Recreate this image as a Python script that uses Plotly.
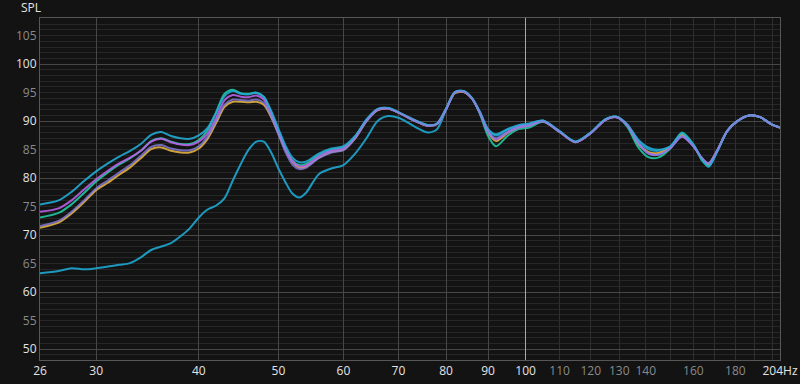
import numpy as np
import plotly.graph_objects as go

# ---------------- data ----------------
freqs = [25.63, 27, 28, 29, 30, 31, 32, 33, 34, 35, 36, 37, 38, 39, 40, 41, 42, 43, 44, 45,
         46, 47, 48, 49, 50, 51, 52, 53, 54, 56, 58, 60, 62, 64, 66, 68, 70, 72, 74, 76,
         78, 80, 82, 84, 86, 88, 90, 92, 95, 98, 101, 105, 110, 115, 120, 125, 129, 133, 137, 141,
         145, 150, 155, 160, 164, 167, 171, 176, 181, 187, 193, 199, 204]

spl_low = [63.3, 63.7, 64.2, 64.0, 64.2, 64.5, 64.8, 65.1, 66.1, 67.4, 68.0, 68.6, 69.8, 71.2, 73.1, 74.5, 75.2, 76.5, 79.6, 82.5,
           85.0, 86.4, 86.4, 84.5, 81.7, 79.3, 77.3, 76.6, 77.4, 80.7, 81.7, 82.3, 84.3, 87.0, 90.0, 90.9, 90.6, 89.7, 88.7, 88.0,
           88.6, 92.0, 95.0, 95.2, 94.0, 91.5, 88.5, 87.5, 88.5, 89.2, 89.5, 90.1, 88.2, 86.4, 88.0, 90.3, 90.8, 89.4, 86.6, 85.1,
           84.8, 85.5, 87.8, 85.8, 83.3, 82.2, 84.7, 88.3, 90.0, 91.0, 90.7, 89.5, 88.9]

spl_gold = [71.3, 72.2, 73.8, 75.8, 77.9, 79.2, 80.6, 81.9, 83.5, 85.1, 85.4, 84.8, 84.5, 84.5, 85.2, 86.9, 89.7, 92.5, 93.4, 93.4,
            93.3, 93.4, 92.9, 90.7, 87.9, 85.0, 82.9, 81.9, 82.0, 83.6, 84.6, 85.0, 87.0, 90.0, 91.9, 92.2, 91.5, 90.6, 89.8, 89.2,
            89.5, 92.1, 94.9, 95.1, 94.0, 91.4, 88.0, 86.5, 87.9, 88.9, 89.2, 90.0, 88.1, 86.3, 87.9, 90.2, 90.7, 89.3, 86.0, 84.6,
            84.4, 85.4, 87.6, 85.7, 83.4, 82.5, 84.8, 88.3, 90.0, 91.0, 90.7, 89.5, 88.9]

spl_teal = [73.1, 73.9, 75.4, 77.4, 79.4, 81.0, 82.4, 83.5, 84.8, 86.5, 87.0, 86.4, 86.0, 86.0, 86.7, 88.4, 91.6, 94.8, 95.5, 94.9,
            94.8, 95.0, 94.2, 91.5, 88.3, 85.3, 83.1, 82.3, 82.5, 84.1, 85.0, 85.4, 87.3, 90.2, 92.1, 92.3, 91.6, 90.7, 89.9, 89.3,
            89.6, 92.2, 95.1, 95.3, 94.1, 91.2, 87.4, 85.6, 87.4, 88.6, 88.9, 89.9, 88.2, 86.4, 88.0, 90.3, 90.8, 89.0, 85.5, 83.7,
            83.6, 85.2, 88.0, 85.9, 83.1, 82.1, 84.7, 88.3, 90.0, 91.0, 90.7, 89.5, 88.9]

spl_magenta = [74.1, 74.7, 76.1, 78.0, 79.8, 81.3, 82.6, 83.6, 84.8, 86.4, 86.9, 86.3, 85.9, 85.8, 86.4, 87.8, 90.6, 93.7, 94.6, 94.3,
               94.2, 94.5, 93.8, 91.3, 88.2, 85.2, 83.0, 82.1, 82.2, 83.8, 84.8, 85.2, 87.1, 90.1, 92.0, 92.2, 91.5, 90.6, 89.8, 89.2,
               89.5, 92.1, 95.0, 95.2, 94.0, 91.4, 88.1, 86.8, 88.0, 88.9, 89.2, 90.0, 88.1, 86.3, 87.9, 90.2, 90.7, 89.3, 86.3, 84.4,
               84.1, 85.3, 87.3, 85.6, 83.5, 82.6, 84.8, 88.3, 90.0, 91.0, 90.7, 89.5, 88.9]

spl_cyan = [75.4, 76.1, 77.6, 79.5, 81.2, 82.6, 83.8, 84.8, 86.0, 87.6, 88.1, 87.4, 87.0, 86.9, 87.5, 88.8, 91.5, 94.4, 95.3, 94.8,
            94.7, 95.0, 94.3, 91.8, 88.7, 85.7, 83.6, 82.8, 82.9, 84.3, 85.2, 85.6, 87.4, 90.3, 92.1, 92.3, 91.6, 90.7, 89.9, 89.3,
            89.6, 92.2, 95.1, 95.3, 94.1, 91.6, 88.6, 87.7, 88.6, 89.3, 89.6, 90.1, 88.2, 86.4, 88.0, 90.3, 90.8, 89.4, 86.8, 85.4,
            85.0, 85.6, 87.9, 85.9, 83.3, 82.0, 84.6, 88.3, 90.0, 91.0, 90.7, 89.5, 88.9]

spl_lavender = [71.6, 72.5, 74.1, 76.1, 78.2, 79.6, 81.0, 82.3, 83.9, 85.5, 85.8, 85.2, 84.9, 84.9, 85.6, 87.3, 90.1, 92.9, 93.8, 93.7,
                93.6, 93.8, 93.2, 90.8, 87.7, 84.6, 82.4, 81.6, 81.8, 83.5, 84.5, 84.9, 87.0, 90.0, 92.0, 92.2, 91.5, 90.6, 89.8, 89.2,
                89.5, 92.1, 95.0, 95.2, 94.0, 91.4, 88.2, 87.0, 88.1, 89.0, 89.3, 90.0, 88.1, 86.3, 87.9, 90.2, 90.7, 89.2, 86.2, 84.3,
                84.1, 85.3, 87.3, 85.6, 83.5, 82.6, 84.8, 88.3, 90.0, 91.0, 90.7, 89.5, 88.9]

series = [
    ("low", spl_low, "rgba(30,160,200,0.95)"),
    ("gold", spl_gold, "rgba(218,170,60,0.95)"),
    ("teal", spl_teal, "rgba(32,200,160,0.9)"),
    ("magenta", spl_magenta, "rgba(184,98,232,0.9)"),
    ("cyan", spl_cyan, "rgba(36,170,212,0.9)"),
    ("lavender", spl_lavender, "rgba(136,128,226,0.8)"),
]

x_tick_vals = [25.63, 30, 40, 50, 60, 70, 80, 90, 100, 110, 120, 130, 140, 160, 180, 204]
x_tick_text = ["26", "30", "40", "50", "60", "70", "80", "90", "100", "110", "120", "130", "140", "160", "180", "204Hz"]
x_dim_labels = ["110", "120", "130", "140", "160", "180"]
x_major_grid = [30, 40, 50, 60, 70, 80, 90]
x_minor_grid = [110, 120, 130, 140, 150, 160, 170, 180, 190, 200]
x_bright_grid = [100]

y_tick_vals = [50, 55, 60, 65, 70, 75, 80, 85, 90, 95, 100, 105]
y_major_grid = [50, 60, 70, 80, 90, 100]

X_RANGE = [np.log10(25.63), np.log10(204)]
Y_RANGE = [48.1, 108.1]

DIM = "#8a8a8a"
BRIGHT = "#e4e4e4"
FONT = "Open Sans"

def tt(label, dim):
    return f'<span style="color:{DIM}">{label}</span>' if dim else label

fig = go.Figure()

# empty traces so the grid-only overlay axes get drawn
for xa, ya in [("x2", "y"), ("x3", "y"), ("x", "y2")]:
    fig.add_trace(go.Scatter(x=[], y=[], xaxis=xa, yaxis=ya, mode="lines",
                             hoverinfo="skip", showlegend=False))

for name, vals, col in series:
    assert len(vals) == len(freqs), name
    fig.add_trace(go.Scatter(x=freqs, y=vals, mode="lines", name=name,
                             line=dict(color=col, width=2, shape="spline", smoothing=0.8),
                             hoverinfo="skip"))

fig.update_layout(
    width=800, height=384,
    margin=dict(l=40, r=20, t=18, b=24, autoexpand=False),
    paper_bgcolor="#131313", plot_bgcolor="#131313",
    showlegend=False,
    xaxis=dict(type="log", range=X_RANGE, tickmode="array", tickvals=x_tick_vals,
               ticktext=[tt(t, t in x_dim_labels) for t in x_tick_text],
               showgrid=False, zeroline=False, showline=True, mirror=True,
               linecolor="#575757", linewidth=1, ticks="", automargin=False,
               tickfont=dict(family=FONT, size=12, color=BRIGHT)),
    xaxis2=dict(type="log", range=X_RANGE, overlaying="x", tickmode="array", tickvals=x_major_grid,
                showgrid=True, gridcolor="#474747", gridwidth=1, showticklabels=False, ticks="",
                zeroline=False, automargin=False,
                minor=dict(tickmode="array", tickvals=x_minor_grid, showgrid=True,
                           gridcolor="#2e2e2e", gridwidth=1, ticks="")),
    xaxis3=dict(type="log", range=X_RANGE, overlaying="x", tickmode="array", tickvals=x_bright_grid,
                showgrid=True, gridcolor="#a8a8a8", gridwidth=1, showticklabels=False, ticks="",
                zeroline=False, automargin=False),
    yaxis=dict(range=Y_RANGE, tickmode="array", tickvals=y_tick_vals,
               ticktext=[tt(str(v), v % 10 != 0) for v in y_tick_vals],
               showgrid=False, zeroline=False, showline=True, mirror=True,
               linecolor="#575757", linewidth=1, ticks="", automargin=False,
               tickfont=dict(family=FONT, size=12, color=BRIGHT),
               minor=dict(tickmode="linear", tick0=0, dtick=1, showgrid=True,
                          gridcolor="#272727", gridwidth=1, ticks="")),
    yaxis2=dict(range=Y_RANGE, overlaying="y", tickmode="array", tickvals=y_major_grid,
                showgrid=True, gridcolor="#474747", gridwidth=1, showticklabels=False,
                ticks="", zeroline=False, automargin=False),
    annotations=[dict(text="SPL", xref="paper", yref="paper", x=-0.028, y=1.031,
                      xanchor="left", yanchor="middle", showarrow=False,
                      font=dict(family=FONT, size=12, color=BRIGHT))],
)

fig.write_html("out.html")
